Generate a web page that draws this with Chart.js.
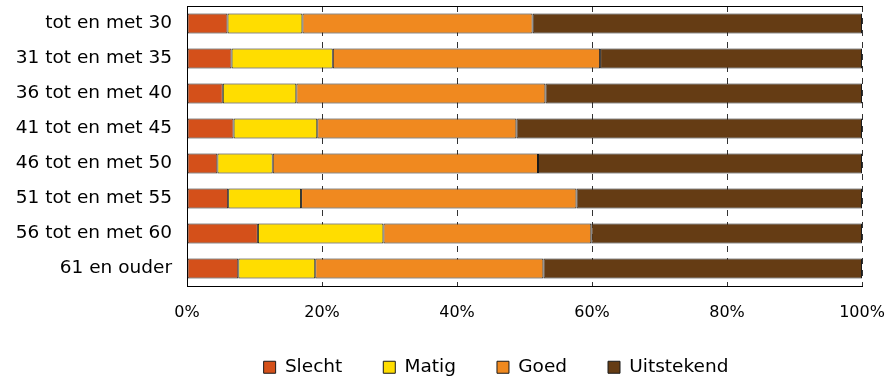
<!DOCTYPE html>
<html>
<head>
<meta charset="utf-8">
<script src="https://cdn.jsdelivr.net/npm/chart.js@4.4.1/dist/chart.umd.min.js"></script>
<style>
  html, body { margin: 0; padding: 0; background: #fff; }
  #wrap { width: 889px; height: 380px; }
</style>
</head>
<body>
<div id="wrap"><canvas id="ageChart" width="889" height="380"></canvas></div>
<script>
// Age groups, top to bottom
const ageGroups = [
    'tot en met 30', '31 tot en met 35', '36 tot en met 40', '41 tot en met 45',
    '46 tot en met 50', '51 tot en met 55', '56 tot en met 60', '61 en ouder'
];

// Share per rating (%)
const slecht     = [6.0, 6.6, 5.3, 6.9, 4.5, 6.1, 10.5, 7.6];
const matig      = [11.1, 15.0, 10.9, 12.4, 8.2, 10.8, 18.6, 11.4];
const goed       = [34.1, 39.6, 36.9, 29.5, 39.3, 40.8, 30.8, 33.8];
const uitstekend = [48.8, 38.8, 46.9, 51.2, 48.0, 42.3, 40.1, 47.2];

const xTicks = [0, 20, 40, 60, 80, 100];

const FONT = "'DejaVu Sans', Verdana, sans-serif";

function series(label, data, color) {
    return {
        label: label,
        data: data,
        backgroundColor: color,
        borderColor: '#1a1a1a',
        borderWidth: 1,
        borderSkipped: false,
        barPercentage: 0.57,
        categoryPercentage: 1.0
    };
}

// Fix a scale's size and drop the automatic label padding Chart.js adds
function fixSize(prop, size) {
    return (scale) => {
        scale[prop] = size;
        scale.paddingTop = scale.paddingBottom = 0;
        scale.paddingLeft = scale.paddingRight = 0;
    };
}

const ctx = document.getElementById('ageChart').getContext('2d');

new Chart(ctx, {
    type: 'bar',
    data: {
        labels: ageGroups,
        datasets: [
            series('Slecht', slecht, '#d4501a'),
            series('Matig', matig, '#ffdd00'),
            series('Goed', goed, '#f0891f'),
            series('Uitstekend', uitstekend, '#653c14')
        ]
    },
    options: {
        indexAxis: 'y',
        responsive: false,
        animation: false,
        // negative right padding lets the legend sit off-centre like the original
        layout: { padding: { top: 6, right: -97, bottom: 0, left: 6 } },
        scales: {
            x: {
                stacked: true,
                min: 0,
                max: 100,
                afterBuildTicks: (scale) => { scale.ticks = xTicks.map(v => ({ value: v })); },
                afterFit: fixSize('height', 31),
                ticks: {
                    padding: 17,
                    color: '#000',
                    font: { family: FONT, size: 16 },
                    callback: (v) => v + '%'
                },
                grid: { color: '#333', lineWidth: 1, drawTicks: false },
                border: { display: true, color: '#000', width: 1, dash: [6, 6] }
            },
            xTop: {
                type: 'linear',
                position: 'top',
                min: 0,
                max: 100,
                afterFit: fixSize('height', 0),
                ticks: { display: false },
                grid: { display: false, drawTicks: false },
                border: { display: true, color: '#000', width: 1 }
            },
            y: {
                stacked: true,
                afterFit: fixSize('width', 181),
                ticks: {
                    padding: 15,
                    color: '#000',
                    font: { family: FONT, size: 18.5 }
                },
                grid: { display: false, drawTicks: false },
                border: { display: true, color: '#000', width: 1 }
            },
            ySpacer: {
                type: 'category',
                position: 'right',
                afterFit: fixSize('width', 124),
                ticks: { display: false },
                grid: { display: false, drawTicks: false },
                border: { display: false }
            }
        },
        plugins: {
            legend: {
                position: 'bottom',
                maxHeight: 63,
                labels: {
                    boxWidth: 12,
                    boxHeight: 12,
                    padding: 41,
                    color: '#000',
                    font: { family: FONT, size: 18.5 }
                }
            },
            tooltip: { enabled: false },
            title: { display: false }
        }
    }
});
</script>
</body>
</html>
